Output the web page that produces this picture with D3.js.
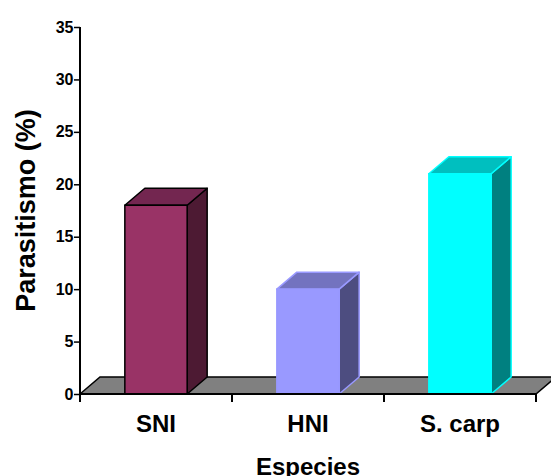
<!DOCTYPE html>
<html>
<head>
<meta charset="utf-8">
<script src="https://cdn.jsdelivr.net/npm/d3@7"></script>
<style>
  body { margin: 0; background: #fff; }
  text { font-family: Arial, "Liberation Sans", sans-serif; font-weight: bold; fill: #000; }
</style>
</head>
<body>
<div id="chart"></div>
<script>
// data
const species = ["SNI", "HNI", "S. carp"];
const parasitismo = [18, 10, 21];
const yTicks = [0, 5, 10, 15, 20, 25, 30, 35];
const frontColors = ["#993366", "#9999ff", "#00ffff"];
const topColors = ["#732650", "#7373bf", "#00bfbf"];
const sideColors = ["#4d1a33", "#4d4d80", "#008080"];
const edgeColors = ["#000000", "#9999ff", "#00ffff"];

const width = 551, height = 476;
const margin = { top: 27, right: 15, bottom: 82, left: 80 };
const innerW = width - margin.left - margin.right;
const innerH = height - margin.top - margin.bottom;
const depthX = 20, depthY = 17;

const svg = d3.select("#chart").append("svg")
    .attr("width", width)
    .attr("height", height);

const chart = svg.append("g")
    .attr("transform", `translate(${margin.left},${margin.top})`);

const xScale = d3.scaleBand()
    .domain(species)
    .range([0, innerW])
    .paddingInner(0.59)
    .paddingOuter(0.295);

const yScale = d3.scaleLinear()
    .domain([0, 35])
    .range([innerH, 0]);

// floor
const y0 = yScale(0);
chart.append("path")
    .attr("d", `M0,${y0} L${depthX},${y0 - depthY} L${innerW + depthX},${y0 - depthY} L${innerW},${y0} Z`)
    .attr("fill", "#808080")
    .attr("stroke", "#000")
    .attr("stroke-width", 1.5);

// bars
const bars = chart.selectAll(".bar")
    .data(species.map((s, i) => ({ name: s, value: parasitismo[i], i: i })))
    .join("g")
    .attr("class", "bar");

bars.append("path")
    .attr("d", d => {
        const x1 = xScale(d.name) + xScale.bandwidth(), yt = yScale(d.value);
        return `M${x1},${yt} L${x1 + depthX},${yt - depthY} L${x1 + depthX},${y0 - depthY} L${x1},${y0} Z`;
    })
    .attr("fill", d => sideColors[d.i])
    .attr("stroke", d => edgeColors[d.i])
    .attr("stroke-width", 1.5)
    .attr("stroke-linejoin", "round");

bars.append("path")
    .attr("d", d => {
        const x0 = xScale(d.name), x1 = x0 + xScale.bandwidth(), yt = yScale(d.value);
        return `M${x0},${yt} L${x0 + depthX},${yt - depthY} L${x1 + depthX},${yt - depthY} L${x1},${yt} Z`;
    })
    .attr("fill", d => topColors[d.i])
    .attr("stroke", d => edgeColors[d.i])
    .attr("stroke-width", 1.5)
    .attr("stroke-linejoin", "round");

bars.append("rect")
    .attr("x", d => xScale(d.name))
    .attr("y", d => yScale(d.value))
    .attr("width", xScale.bandwidth())
    .attr("height", d => y0 - yScale(d.value))
    .attr("fill", d => frontColors[d.i])
    .attr("stroke", d => edgeColors[d.i])
    .attr("stroke-width", 1.5);

// axes
const yAxis = d3.axisLeft(yScale)
    .tickValues(yTicks)
    .tickSize(6)
    .tickPadding(1);

const gy = chart.append("g").call(yAxis);
gy.select(".domain").remove();
gy.selectAll(".tick line").attr("stroke", "#000").attr("stroke-width", 1.5);
gy.selectAll(".tick text")
    .style("font-size", "16px")
    .style("letter-spacing", "-0.3px");
gy.append("line")
    .attr("x1", 0).attr("x2", 0)
    .attr("y1", 0).attr("y2", innerH + 8)
    .attr("stroke", "#000")
    .attr("stroke-width", 2);

// x axis: category ticks at band boundaries
const xBounds = [0, innerW / 3, innerW * 2 / 3, innerW];
const gx = chart.append("g").attr("transform", `translate(0,${innerH})`);
gx.append("line")
    .attr("x1", 0).attr("x2", innerW)
    .attr("stroke", "#000")
    .attr("stroke-width", 2);
gx.selectAll(".xt")
    .data(xBounds)
    .join("line")
    .attr("class", "xt")
    .attr("x1", d => d).attr("x2", d => d)
    .attr("y1", 0).attr("y2", 8)
    .attr("stroke", "#000")
    .attr("stroke-width", 2);
gx.selectAll(".xl")
    .data(species)
    .join("text")
    .attr("class", "xl")
    .attr("x", d => xScale(d) + xScale.bandwidth() / 2)
    .attr("y", 38)
    .attr("text-anchor", "middle")
    .style("font-size", "24px")
    .text(d => d);

// axis titles
svg.append("text")
    .attr("text-anchor", "middle")
    .attr("transform", `translate(${margin.left + innerW / 2}, 475)`)
    .style("font-size", "24px")
    .text("Especies");

svg.append("text")
    .attr("text-anchor", "middle")
    .attr("transform", `translate(35, ${margin.top + innerH / 2}) rotate(-90)`)
    .style("font-size", "27px")
    .text("Parasitismo (%)");
</script>
</body>
</html>
